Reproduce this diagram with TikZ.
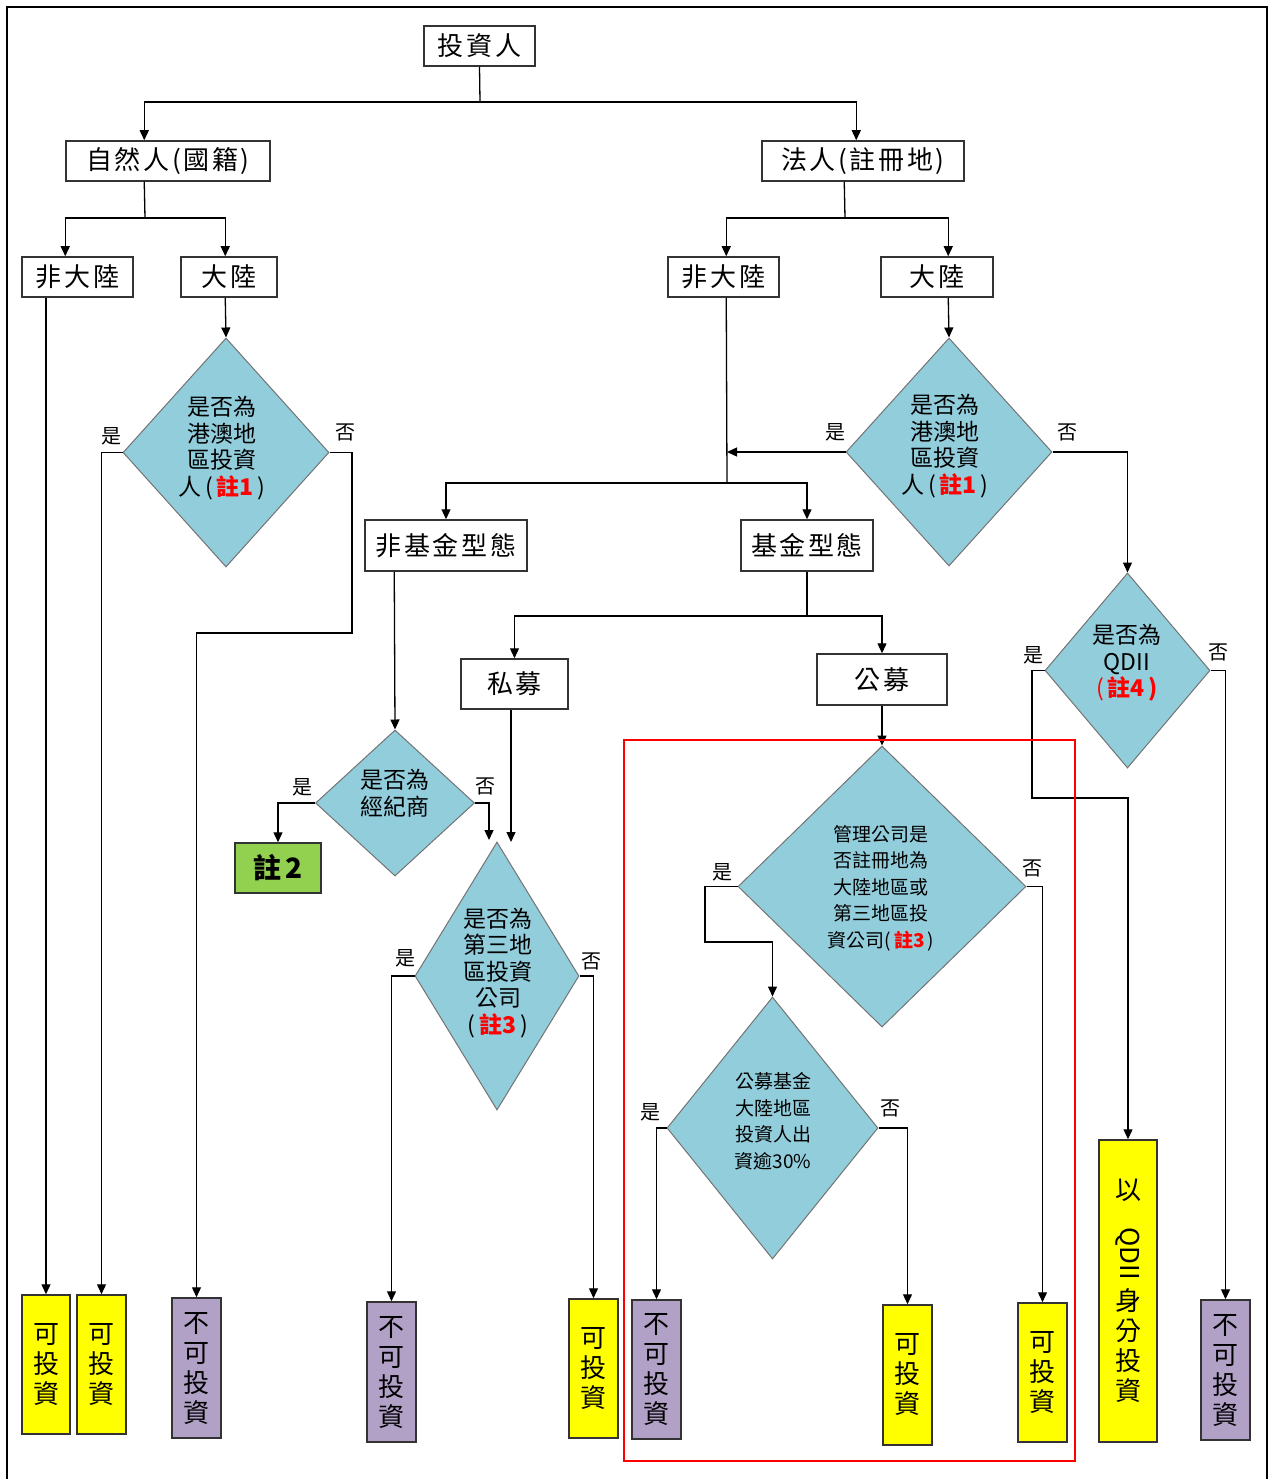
\documentclass[tikz,border=0pt]{standalone}
\usepackage{fontspec}
\setmainfont{Noto Sans CJK TC}
\usetikzlibrary{shapes.geometric,arrows.meta,calc}
\definecolor{diacol}{HTML}{92CDDC}
\definecolor{purp}{HTML}{B2A1C7}
\definecolor{yel}{HTML}{FFFF00}
\definecolor{grn}{HTML}{92D050}
\definecolor{notered}{HTML}{FF0000}
\tikzset{
 box/.style={draw=black!80, line width=1.5pt, fill=white, inner sep=0pt, font=\fontsize{26}{30}\selectfont\addfontfeatures{LetterSpace=10}},
 vbox/.style={draw=black!80, line width=1.5pt, inner sep=0pt, align=center, font=\fontsize{26}{30}\selectfont},
 ybox/.style={vbox, fill=yel},
 pbox/.style={vbox, fill=purp},
 dia/.style={diamond, draw=black!55, line width=1pt, fill=diacol, inner sep=0pt},
 dtext/.style={align=center, inner sep=0pt, font=\fontsize{23}{26.5}\selectfont},
 dtexts/.style={align=center, inner sep=0pt, font=\fontsize{19}{26.5}\selectfont},
 yn/.style={inner sep=0pt, font=\fontsize{20}{22}\selectfont},
 conn/.style={line width=1.3pt, draw=black},
 arr/.style={conn, -{Triangle[width=9pt,length=10pt]}},
}
\newcommand{\rn}[1]{\textcolor{notered}{\bfseries #1}}
\begin{document}
\begin{tikzpicture}[x=1pt,y=-1pt]
\fill[white] (0,0) rectangle (1270,1479);
\useasboundingbox (0,0) rectangle (1270,1479);
% outer frame
\draw[line width=2pt] (7,1479) -- (7,7) -- (1267,7) -- (1267,1479);

% boxes
\node[box, minimum width=111pt, minimum height=40pt] (inv) at (479.5,46) {投資人};
\node[box, minimum width=204pt, minimum height=40pt] (nat) at (168,161) {自然人(國籍)};
\node[box, minimum width=202pt, minimum height=40pt] (leg) at (863,161) {法人(註冊地)};
\node[box, minimum width=111pt, minimum height=40pt] (nm1) at (77.5,277) {非大陸};
\node[box, minimum width=96pt, minimum height=40pt] (m1) at (229,277) {大陸};
\node[box, minimum width=111pt, minimum height=40pt] (nm2) at (723.5,277) {非大陸};
\node[box, minimum width=112pt, minimum height=40pt] (m2) at (937,277) {大陸};
\node[box, minimum width=162pt, minimum height=51pt] (nf) at (446,545.5) {非基金型態};
\node[box, minimum width=132pt, minimum height=51pt] (fd) at (807,545.5) {基金型態};
\node[box, minimum width=107pt, minimum height=50pt] (pri) at (514.5,684) {私募};
\node[box, minimum width=130pt, minimum height=51pt] (pub) at (882,679.5) {公募};
\node[box, fill=grn, minimum width=86pt, minimum height=50pt, font=\fontsize{28}{30}\selectfont\bfseries] (n2) at (278,868) {註\,2};

% diamonds
\node[dia, minimum width=206pt, minimum height=229pt] (d1) at (226,452.5) {};
\node[dia, minimum width=206pt, minimum height=228pt] (d2) at (949,452) {};
\node[dia, minimum width=159pt, minimum height=146pt] (d3) at (395,803) {};
\node[dia, minimum width=164pt, minimum height=268pt] (d4) at (497,976) {};
\node[dia, minimum width=288pt, minimum height=281pt] (d5) at (882,886.5) {};
\node[dia, minimum width=211pt, minimum height=262pt] (d6) at (772.5,1128) {};
\node[dia, minimum width=165pt, minimum height=195pt] (d7) at (1127.5,670.5) {};

% diamond texts
\node[dtext] (t1) at (222,448) {是否為\\港澳地\\區投資\\人\,(\,\rn{註1}\,)};
\node[dtext] (t2) at (945,446) {是否為\\港澳地\\區投資\\人\,(\,\rn{註1}\,)};
\node[dtext] (t3) at (395,793) {是否為\\經紀商};
\node[dtext] (t4) at (498,973) {是否為\\第三地\\區投資\\公司\\(\,\rn{註3}\,)};
\node[dtexts] (t5) at (881,888) {管理公司是\\否註冊地為\\大陸地區或\\第三地區投\\資公司(\,\rn{註3}\,)};
\node[dtexts] (t6) at (773,1121) {公募基金\\大陸地區\\投資人出\\資逾30\%};
\node[dtext] (t7) at (1127,663) {是否為\\QDII\\\textcolor{notered}{(\,\bfseries 註4\,)}};

% bottom boxes
\node[ybox, minimum width=48pt, minimum height=139pt] (b1) at (46,1364.5) {可\\投\\資};
\node[ybox, minimum width=49pt, minimum height=139pt] (b2) at (101.5,1364.5) {可\\投\\資};
\node[pbox, minimum width=49pt, minimum height=140pt] (b3) at (196.5,1368) {不\\可\\投\\資};
\node[pbox, minimum width=49pt, minimum height=140pt] (b4) at (391.5,1372) {不\\可\\投\\資};
\node[ybox, minimum width=49pt, minimum height=139pt] (b5) at (593.5,1368.5) {可\\投\\資};
\node[pbox, minimum width=49pt, minimum height=139pt] (b6) at (656.5,1369.5) {不\\可\\投\\資};
\node[ybox, minimum width=49pt, minimum height=140pt] (b7) at (907.5,1375) {可\\投\\資};
\node[ybox, minimum width=49pt, minimum height=139pt] (b8) at (1042.5,1372.5) {可\\投\\資};
\node[ybox, minimum width=58pt, minimum height=302pt] (b9) at (1128,1291) {以\\[-2pt]\rotatebox{-90}{QDII}\\[8pt]身\\分\\投\\資};
\node[pbox, minimum width=49pt, minimum height=140pt] (b10) at (1225.5,1370) {不\\可\\投\\資};

% junction coordinates
\coordinate (jA) at (480,102);
\coordinate (jB) at (145,218);
\coordinate (jC) at (845,218);
\coordinate (jD) at (352,633);
\coordinate (jE) at (727,483);
\coordinate (jF) at (807,616);
\coordinate (jG) at (489,840);
\coordinate (jH) at (511,842);
\coordinate (jI) at (705,942);
\coordinate (jJ) at (1032,798);

% connectors
\draw[conn] (inv.south) -- (jA);
\draw[arr] (jA) -| ($(nat.north west)+(79,0)$);
\draw[arr] (jA) -| ($(leg.north west)+(95,0)$);
\draw[conn] ($(nat.south west)+(79,0)$) -- (jB);
\draw[arr] (jB) -| ($(nm1.north west)+(44,0)$);
\draw[arr] (jB) -| ($(m1.north west)+(45,0)$);
\draw[conn] ($(leg.south west)+(83,0)$) -- (jC);
\draw[arr] (jC) -| ($(nm2.north west)+(59,0)$);
\draw[arr] (jC) -| ($(m2.north west)+(68,0)$);
\draw[arr] ($(m1.south west)+(45,0)$) -- (d1.north);
\draw[arr] ($(m2.south west)+(68,0)$) -- (d2.north);
\draw[arr] (nm1.south -| b1.north) -- (b1.north);
\draw[arr] (d1.west) -| (b2.north);
\draw[arr] (d1.east) -| (jD) -| (b3.north);
\draw[conn] ($(nm2.south west)+(59,0)$) -- (jE);
\draw[arr] (jE) -| (nf.north);
\draw[arr] (jE) -| (fd.north);
\draw[arr] (d2.west) -- (d2.west -| jE);
\draw[arr] (d2.east) -| (d7.north);
\draw[conn] (fd.south) -- (jF);
\draw[arr] (jF) -| (pri.north);
\draw[arr] (jF) -| (pub.north);
\draw[arr] ($(nf.south west)+(30,0)$) -- (d3.north);
\draw[arr] (d3.west) -| (n2.north);
\draw[arr] (d3.east) -| (jG);
\draw[arr] (pri.south -| jH) -- (jH);
\draw[arr] (d4.west) -| (b4.north);
\draw[arr] (d4.east) -| (b5.north);
\draw[arr] (pub.south) -- (d5.north);
\draw[arr] (d5.west) -| (jI) -| (d6.north);
\draw[arr] (d5.east) -| (b8.north);
\draw[arr] (d6.west) -| (b6.north);
\draw[arr] (d6.east) -| (b7.north);
\draw[arr] (d7.west) -| (jJ) -| (b9.north);
\draw[arr] (d7.east) -| (b10.north);

% yes / no labels
\node[yn] (y1) at (111,436) {是};
\node[yn] (n1) at (345,432) {否};
\node[yn] (y2) at (835,432) {是};
\node[yn] (no2) at (1067,432) {否};
\node[yn] (y3) at (302,787) {是};
\node[yn] (no3) at (485,786) {否};
\node[yn] (y4) at (405,958) {是};
\node[yn] (no4) at (591,961) {否};
\node[yn] (y5) at (722,872) {是};
\node[yn] (no5) at (1032,868) {否};
\node[yn] (y6) at (650,1112) {是};
\node[yn] (no6) at (890,1108) {否};
\node[yn] (y7) at (1033,655) {是};
\node[yn] (no7) at (1218,652) {否};

% red frame
\draw[red, line width=2pt] (624,740) rectangle (1075,1461);
\end{tikzpicture}
\end{document}
